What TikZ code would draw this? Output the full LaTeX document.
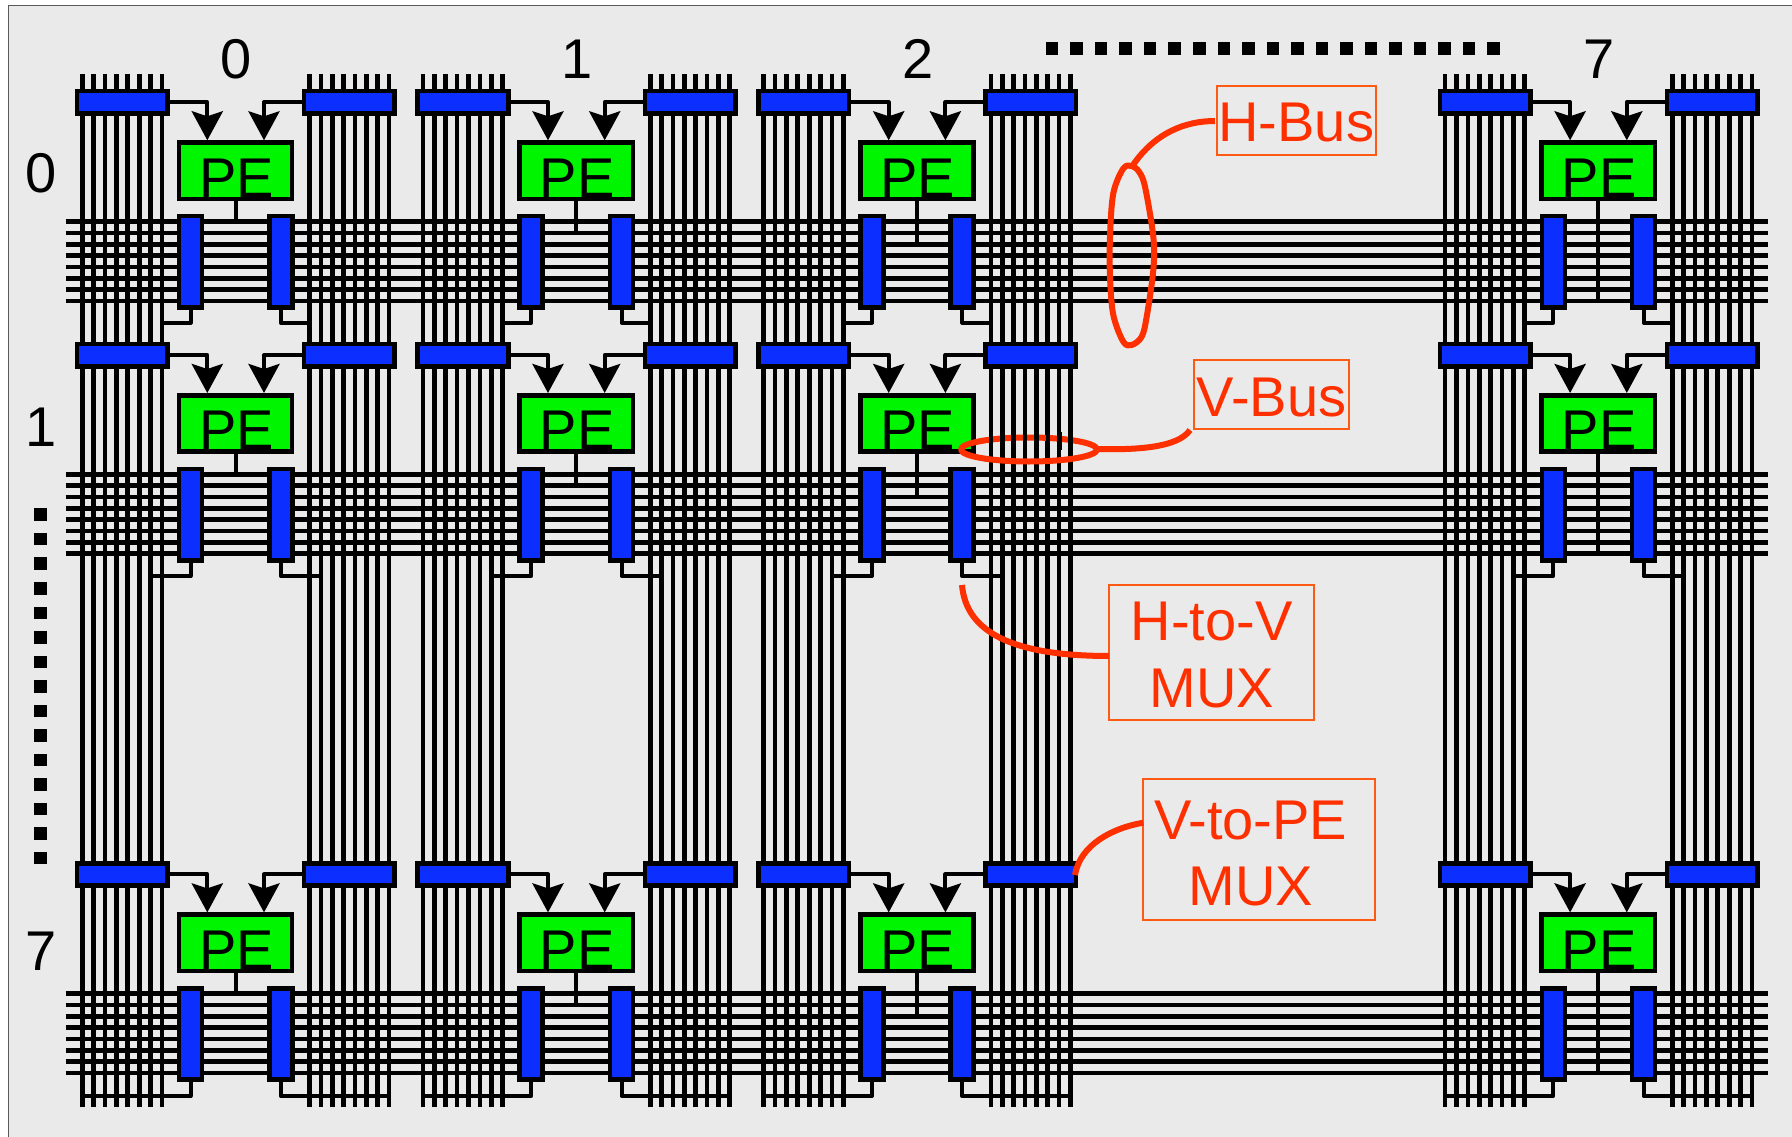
\documentclass[tikz,border=0pt]{standalone}
\usepackage{fontspec}
\setmainfont{Liberation Sans}
\usetikzlibrary{arrows.meta}
\definecolor{panel}{HTML}{EAEAEA}
\definecolor{muxblue}{HTML}{0C2EFF}
\definecolor{pegreen}{HTML}{00F500}
\definecolor{notered}{HTML}{FF3000}
\definecolor{boxred}{HTML}{FF5A14}
\newcommand{\dn}[1]{\raisebox{-2.5pt}[\height][\depth]{#1}}
\tikzset{
  x=1pt,y=-1pt,
  wire/.style={line width=4.7pt,black},
  signal/.style={line width=4pt,black,line join=round},
  feed/.style={signal,-{Stealth[length=29pt,width=31pt,inset=5pt]}},
  vmux/.style={draw=black,fill=muxblue,line width=4.6pt,inner sep=0pt,outer sep=0pt,minimum width=90.6pt,minimum height=22.4pt},
  hmux/.style={draw=black,fill=muxblue,line width=4.6pt,inner sep=0pt,outer sep=0pt,minimum width=23pt,minimum height=91.4pt},
  pebox/.style={draw=black,fill=pegreen,line width=4.6pt,inner sep=0pt,outer sep=0pt,minimum width=113.3pt,minimum height=56.4pt},
  petext/.style={font=\fontsize{56}{67}\selectfont,text=black,inner sep=0pt,anchor=base},
  idx/.style={font=\fontsize{56}{67}\selectfont,text=black,inner sep=0pt,anchor=base},
  dotmark/.style={fill=black,inner sep=0pt,minimum size=12.5pt},
  note/.style={draw=boxred,line width=2pt,text=notered,inner sep=0pt,outer sep=0pt,align=center,font=\fontsize{56}{67}\selectfont},
  ring/.style={draw=notered,line width=6pt,line join=round},
}
\begin{document}
\begin{tikzpicture}
\useasboundingbox[fill=white] (0,0) rectangle (1792,1137);
\fill[panel] (8,6) rectangle (1792,1137);
\draw[line width=1pt,black!65] (1792,6) -- (8,6) -- (8,1137);

% dots
\foreach \i in {0,...,18} \node[dotmark] (hd\i) at (1052+\i*24.54,48.7) {};
\foreach \i in {0,...,14} \node[dotmark] (vd\i) at (40.7,514.7+\i*24.52) {};

% index labels
\foreach \t/\dx in {0/0,1/340.7,2/681.4,7/1362.8}
  \node[idx] (col\t) at (236.5+\dx,78.5) {\t};
\foreach \t/\y in {0/193,1/446,7/970}
  \node[idx] (row\t) at (41,\y) {\t};

% vertical buses
\foreach \dx in {0,340.7,681.4,1362.8}
  \foreach \g in {0,227.2}
    \foreach \i in {0,...,7}
      \draw[wire] (82.3+\dx+\g+\i*11.37,74) -- (82.3+\dx+\g+\i*11.37,1106.7);

% horizontal buses
\foreach \dy in {0,252.5,771.9}
  \foreach \i in {0,...,7}
    \draw[wire] (65.7,221.7+\dy+\i*11.34) -- (1768,221.7+\dy+\i*11.34);

% cells
\foreach \c/\dx/\k in {0/0/0,1/340.7/1,2/681.4/2,7/1362.8/7}{
  \foreach \r/\dy/\a/\b/\ty in {0/0/7/0/322.7,1/252.7/6/1/576,7/772.1/0/7/1096}{
    \node[vmux] (vL\c\r) at (122.3+\dx,102.3+\dy) {};
    \node[vmux] (vR\c\r) at (349.4+\dx,102.3+\dy) {};
    \node[hmux] (hL\c\r) at (190.5+\dx,261.8+\dy) {};
    \node[hmux] (hR\c\r) at (280.8+\dx,261.8+\dy) {};
    \coordinate (bus\c\r) at (235.5+\dx,221.7+\dy+\k*11.34);
    \coordinate (tL\c\r) at (82.3+\dx+\a*11.37,\ty);
    \coordinate (tR\c\r) at (309.5+\dx+\b*11.37,\ty);
    \coordinate (inL\c\r) at (207.3+\dx,140.3+\dy);
    \coordinate (inR\c\r) at (264+\dx,140.3+\dy);
    \node[pebox] (pe\c\r) at (235.5+\dx,170.7+\dy) {};
    \draw[signal] (pe\c\r.south) -- (bus\c\r);
    \draw[signal] (hL\c\r.south) |- (tL\c\r);
    \draw[signal] (hR\c\r.south) |- (tR\c\r);
    \draw[feed] (vL\c\r.east) -| (inL\c\r);
    \draw[feed] (vR\c\r.west) -| (inR\c\r);
    \node[petext] (pt\c\r) at (236.5+\dx,197+\dy) {PE};
  }
}

% callouts
\node[note,minimum width=158.7pt,minimum height=69.6pt] (hbus) at (1296.3,120.5) {\dn{H-Bus}};
\node[note,minimum width=155.3pt,minimum height=69.3pt] (vbus) at (1271.6,394.6) {\dn{V-Bus}};
\node[note,minimum width=204.7pt,minimum height=135pt] (htov) at (1211.6,652.5) {\dn{H-to-V}\\\dn{MUX}};
\node[note,minimum width=231.7pt,minimum height=140.7pt] (vtope) at (1259.2,849.7)
  {\raisebox{-4pt}[\height][\depth]{V-to-PE}\hspace*{17pt}\\\raisebox{-3pt}[\height][\depth]{MUX}\hspace*{17pt}};

% H-Bus ring and leader
\draw[ring] plot[smooth cycle,tension=0.55] coordinates {
  (1131.7,166) (1123.3,168.5) (1113.3,193.3) (1110,236.7) (1110,276.7) (1113.3,315)
  (1123.3,341.7) (1131.7,345) (1141.7,336.7) (1146.7,316.7) (1153.3,270) (1153.3,236.7)
  (1145,186.7) (1139,171.7)};
\coordinate (hring) at (1133,165);
\draw[ring] (hbus.west) ++(-2,0.5) .. controls (1185,121) and (1155,133) .. (hring);

% V-Bus ring, passing behind the wires on its upper half
\coordinate (vringc) at (1029,449.5);
\draw[ring] (vringc) ellipse [x radius=68,y radius=12];
\foreach \i in {0,...,7}
  \draw[wire] (991.0+\i*11.37,432) -- (991.0+\i*11.37,449.5);
\coordinate (vringe) at (1097,449);
\coordinate (vbusl) at (1190,430);
\draw[ring] (vringe) .. controls (1135,450) and (1178,448) .. (vbusl);

% H-to-V and V-to-PE leaders
\coordinate (hvend) at (962,585);
\draw[ring] (htov.west) ++(0,3.5) .. controls (1012,656) and (966,632) .. (hvend);
\coordinate (vpend) at (1075,875);
\draw[ring] (vtope.west) ++(0,-27) .. controls (1112,828) and (1080,845) .. (vpend);
\end{tikzpicture}
\end{document}
